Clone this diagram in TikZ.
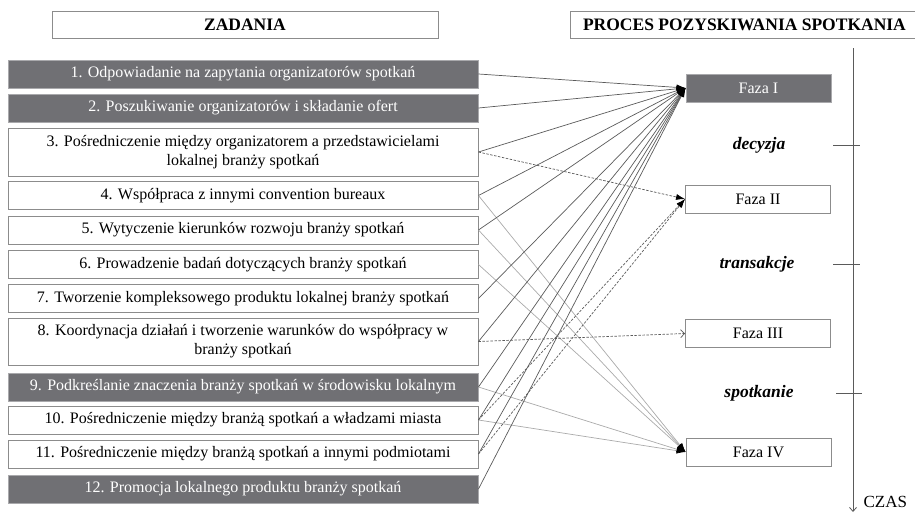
\documentclass[tikz,border=0pt]{standalone}
\usepackage{fontspec}
\setmainfont{Liberation Serif}
\usepackage{tikz}
\usetikzlibrary{arrows.meta}
\definecolor{ciemny}{RGB}{112,112,116}
\definecolor{ramka}{RGB}{140,140,140}
\definecolor{liniaI}{RGB}{90,90,90}
\definecolor{liniaIV}{RGB}{170,170,170}
\newcommand{\tekst}{\fontsize{16}{19}\selectfont}

\begin{document}
\begin{tikzpicture}[x=1pt,y=-1pt,
  zad/.style={draw=ramka,line width=0.9pt,minimum width=470pt,minimum height=28pt,inner sep=0pt,align=center,font=\tekst},
  zadc/.style={zad,fill=ciemny,draw=ciemny!60,text=white},
  faza/.style={draw=ramka,line width=0.9pt,minimum width=145pt,minimum height=28pt,inner sep=0pt,font=\tekst},
  fazac/.style={faza,fill=ciemny,draw=ciemny!60,text=white},
  naglowek/.style={draw=ramka,line width=0.9pt,minimum height=27pt,inner sep=0pt,font=\fontsize{17.5}{20}\selectfont\bfseries},
  etap/.style={font=\fontsize{17.5}{20}\selectfont\bfseries\itshape},
  grot/.style={-{Latex[length=9pt,width=6pt,color=black]}},
  doI/.style={liniaI,line width=0.7pt,grot},
  doIV/.style={liniaIV,line width=0.7pt,grot},
  kreska/.style={liniaI,line width=0.7pt,dash pattern=on 2.5pt off 1.5pt,grot}
]
 \useasboundingbox (0,0) rectangle (915,514);

 \node[naglowek,minimum width=386pt] (zadania) at (245,24.5) {ZADANIA};
 \node[naglowek,minimum width=348pt,anchor=west] (proces) at (570,24.5) {PROCES POZYSKIWANIA SPOTKANIA};

 \node[zadc] (z1) at (243,74) {1. Odpowiadanie na zapytania organizatorów spotkań};
 \node[zadc] (z2) at (243,108) {2. Poszukiwanie organizatorów i składanie ofert};
 \node[zad,minimum height=48pt] (z3) at (243,152) {3. Pośredniczenie między organizatorem a przedstawicielami\\lokalnej branży spotkań};
 \node[zad] (z4) at (243,195.5) {4. Współpraca z innymi convention bureaux};
 \node[zad] (z5) at (243,230) {5. Wytyczenie kierunków rozwoju branży spotkań};
 \node[zad] (z6) at (243,264.5) {6. Prowadzenie badań dotyczących branży spotkań};
 \node[zad] (z7) at (243,298.5) {7. Tworzenie kompleksowego produktu lokalnej branży spotkań};
 \node[zad,minimum height=47pt] (z8) at (243,341.5) {8. Koordynacja działań i tworzenie warunków do współpracy w\\branży spotkań};
 \node[zadc] (z9) at (243,387) {9. Podkreślanie znaczenia branży spotkań w środowisku lokalnym};
 \node[zad] (z10) at (243,420) {10. Pośredniczenie między branżą spotkań a władzami miasta};
 \node[zad] (z11) at (243,454) {11. Pośredniczenie między branżą spotkań a innymi podmiotami};
 \node[zadc] (z12) at (243,489) {12. Promocja lokalnego produktu branży spotkań};

 \node[fazac] (f1) at (758.5,88) {Faza I};
 \node[faza] (f2) at (758,199) {Faza II};
 \node[faza] (f3) at (758,333.5) {Faza III};
 \node[faza] (f4) at (758.5,452) {Faza IV};

 \node[etap] (decyzja) at (759,145) {decyzja};
 \node[etap] (transakcje) at (757,264) {transakcje};
 \node[etap] (spotkanie) at (759,393) {spotkanie};

 \coordinate (os0) at (853,48);
 \coordinate (os1) at (853,512);
 \draw[liniaI,line width=0.8pt,-{Straight Barb[length=4pt,width=7pt]}] (os0) -- (os1);
 \draw[liniaI,line width=0.8pt] (833,145) -- (860,145);
 \draw[liniaI,line width=0.8pt] (833,264) -- (860,264);
 \draw[liniaI,line width=0.8pt] (836,393) -- (862,393);
 \node[anchor=west,font=\fontsize{17}{20}\selectfont] (czas) at (860,502) {CZAS};

 \draw[doIV] (z4.east) -- (f4.west);
 \draw[doIV] (z5.east) -- (f4.west);
 \draw[doIV] (z6.east) -- (f4.west);
 \draw[doIV] (z9.east) -- (f4.west);
 \draw[doIV] (z10.east) -- (f4.west);

 \draw[kreska] (z3.east) -- (f2.west);
 \draw[kreska] (z10.east) -- (f2.west);
 \draw[kreska] (z11.east) -- (f2.west);
 \draw[kreska,-{Straight Barb[length=4pt,width=8pt]}] (z8.east) -- (f3.west);

 \draw[doI] (z1.east) -- (f1.west);
 \draw[doI] (z2.east) -- (f1.west);
 \draw[doI] (z3.east) -- (f1.west);
 \draw[doI] (z4.east) -- (f1.west);
 \draw[doI] (z5.east) -- (f1.west);
 \draw[doI] (z7.east) -- (f1.west);
 \draw[doI] (z8.east) -- (f1.west);
 \draw[doI] (z9.east) -- (f1.west);
 \draw[doI] (z10.east) -- (f1.west);
 \draw[doI] (z11.east) -- (f1.west);
 \draw[doI] (z12.east) -- (f1.west);
\end{tikzpicture}
\end{document}
